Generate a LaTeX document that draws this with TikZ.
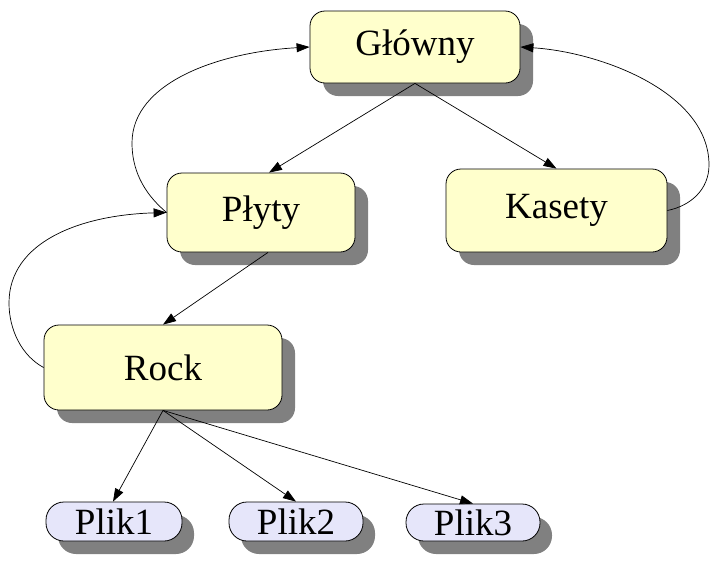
\documentclass[tikz,border=0pt]{standalone}
\usepackage{fontspec}
\setmainfont{Liberation Serif}
\usetikzlibrary{shadows,arrows.meta}
\definecolor{boxyellow}{HTML}{FFFFCC}
\definecolor{boxlav}{HTML}{E6E6FA}
\definecolor{shadowgray}{HTML}{808080}
\begin{document}
\begin{tikzpicture}[x=1pt,y=-1pt,
  font=\fontsize{37}{42}\selectfont,
  menu/.style={draw=black, line width=0.8pt, fill=boxyellow, rounded corners=15pt,
    inner sep=0pt, anchor=center,
    drop shadow={shadow xshift=13pt, shadow yshift=-13pt, fill=shadowgray, opacity=1}},
  plik/.style={draw=black, line width=0.8pt, fill=boxlav, rounded corners=18pt,
    inner sep=0pt, anchor=center, minimum height=39pt,
    drop shadow={shadow xshift=12pt, shadow yshift=-13pt, fill=shadowgray, opacity=1}},
  link/.style={draw=black, line width=0.7pt, -{Triangle[length=13pt,width=9pt]}},
  back/.style={draw=black, line width=0.7pt, -{Triangle[length=13pt,width=9pt]}}]

\useasboundingbox (0,0) rectangle (710,560);

% menu nodes
\node[menu, minimum width=210pt, minimum height=72pt] (G) at (415,47) {Główny};
\node[menu, minimum width=188pt, minimum height=79pt] (P) at (261,212.5) {Płyty};
\node[menu, minimum width=221pt, minimum height=83pt] (K) at (556.5,210.5) {Kasety};
\node[menu, minimum width=238pt, minimum height=85pt] (R) at (163,367.5) {Rock};

% file nodes
\node[plik, minimum width=136pt] (F1) at (114,521.5) {Plik1};
\node[plik, minimum width=134pt] (F2) at (296,521.5) {Plik2};
\node[plik, minimum width=134pt, minimum height=37pt] (F3) at (473,522.5) {Plik3};

% tree edges
\draw[link] (G.south) -- ([xshift=8pt]P.north);
\draw[link] (G.south) -- (K.north);
\draw[link] ([xshift=7pt]P.south) -- (R.north);
\draw[link] (R.south) -- ([xshift=-1pt]F1.north);
\draw[link] (R.south) -- (F2.north);
\draw[link] (R.south) -- (F3.north);

% return edges
\draw[back] (P.west) .. controls (142,192) and (132,168) .. (132,143)
  .. controls (132,82) and (220,52) .. (G.west);
\draw[back] (R.west) .. controls (22,356) and (9,330) .. (9,303)
  .. controls (9,242) and (80,215) .. (P.west);
\draw[back] (K.east) .. controls (690,206) and (709,190) .. (709,165)
  .. controls (709,92) and (600,52) .. (G.east);
\end{tikzpicture}
\end{document}
